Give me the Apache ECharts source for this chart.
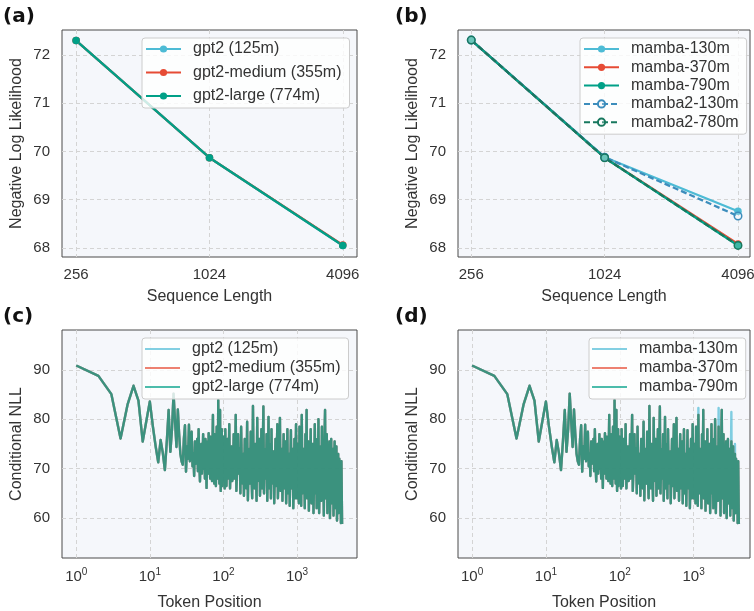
<!DOCTYPE html>
<html><head><meta charset="utf-8">
<script src="https://cdn.jsdelivr.net/npm/echarts@6/dist/echarts.min.js"></script>
<style>html,body{margin:0;padding:0;background:#fff}#c{width:754px;height:611px}</style>
</head><body><div id="c"></div>
<script>
// ---------- data ----------
const seqLen = [256, 1024, 4096];
const gpt2_125m = [72.30, 69.87, 68.05];
const gpt2_355m = [72.30, 69.87, 68.06];
const gpt2_774m = [72.30, 69.87, 68.05];
const mamba_130m = [72.31, 69.88, 68.76];
const mamba_370m = [72.31, 69.87, 68.08];
const mamba_790m = [72.31, 69.87, 68.05];
const mamba2_130m = [72.31, 69.88, 68.66];
const mamba2_780m = [72.31, 69.87, 68.05];

const tokenPos = [
  // 1-30
  1,2,3,4,5,6,7,8,9,10,11,12,13,14,15,16,17,18,19,20,21,22,23,24,25,26,27,28,29,30,
  // 31-100
  31,32,33,34,35,36,37,38,39,40,41,42,43,44,45,46,47,48,49,50,
  51,52,53,54,55,56,57,58,59,60,61,62,63,64,65,66,67,68,69,70,
  71,72,73,74,75,76,77,78,79,80,81,82,83,84,85,86,87,88,89,90,
  91,92,93,94,95,96,97,98,99,100,
  // 102-970
  102,104,106,108,110,112,114,116,118,120,
  123,126,129,132,135,138,141,144,147,150,
  154,158,162,166,170,174,178,182,186,190,
  195,200,205,210,215,220,225,230,235,240,
  246,252,258,264,270,276,282,288,294,300,
  307,314,321,328,335,342,349,356,363,370,
  378,386,394,402,410,418,426,434,442,450,
  460,470,480,490,500,510,520,530,540,550,
  562,574,586,598,610,622,634,646,658,670,
  684,698,712,726,740,754,768,782,796,810,
  826,842,858,874,890,906,922,938,954,970,
  // 1000-4096 (75)
  1000,1020,1040,1060,1080,1100,1120,1140,1160,1180,
  1200,1225,1250,1275,1300,1325,1350,1375,1400,1425,1450,1475,
  1500,1535,1570,1605,1640,1675,1710,1745,1780,1815,1850,1885,1920,1955,
  2000,2045,2090,2135,2180,2225,2270,2315,2360,2405,2450,2495,2540,2585,
  2640,2695,2750,2805,2860,2915,2970,3025,3080,3135,3190,3245,
  3300,3365,3430,3495,3560,3625,3690,3755,3820,3885,3950,4015,4096
];
// conditional NLL; panel (d) mamba-370m / mamba-790m overlap it
const nllShared = [
  // 1-30
  90.9,88.8,85.1,76.1,83.1,86.8,83.8,75.5,79.8,83.6,
  78.5,74.5,71.3,75.8,73.2,69.7,75.5,81.9,73.4,78.0,
  85.2,79.5,74.4,82.0,77.0,73.0,71.5,70.8,76.0,78.8,
  // 31-100
  69.4,74.5,72.0,78.9,71.5,74.0,77.5,70.5,73.0,68.5,
  75.5,71.0,72.5,76.0,69.5,78.0,71.0,67.4,73.5,75.0,
  69.0,72.0,77.0,70.0,74.5,68.0,76.0,71.5,66.1,73.0,
  75.5,69.0,77.2,71.0,74.0,68.0,76.5,70.5,73.0,67.5,
  75.0,80.9,70.0,73.5,67.0,77.0,71.5,74.5,66.5,72.0,
  78.5,69.5,75.0,68.0,83.9,72.5,76.0,67.0,74.0,81.9,
  70.0,65.5,75.5,71.0,78.0,66.5,73.0,69.5,76.5,68.0,
  // 102-970
  74.0,66.0,78.0,70.5,66.5,73.0,76.0,68.0,71.5,79.0,
  66.0,72.0,74.5,67.5,70.0,77.0,68.0,73.0,80.9,65.5,
  71.0,77.0,69.0,74.0,65.0,78.5,70.0,67.0,73.0,64.5,
  76.0,70.5,66.0,79.5,63.6,72.0,74.0,67.0,77.5,69.0,
  64.0,82.7,68.5,66.0,75.0,70.0,63.5,80.3,67.5,72.0,
  76.0,64.5,70.0,78.0,66.0,73.0,82.6,65.0,71.0,74.0,
  68.0,77.0,63.5,70.0,80.5,66.0,72.5,75.0,64.0,78.0,
  67.0,71.0,73.5,63.0,69.5,76.0,66.5,72.0,79.0,64.0,
  70.0,74.0,80.3,65.5,68.5,74.0,63.5,71.0,77.0,66.0,
  69.5,75.5,63.0,70.5,78.0,65.0,68.0,73.0,62.5,70.0,
  77.8,66.0,71.5,74.0,62.0,68.0,76.0,64.0,70.0,79.0,
  // 1000-4096
  64.0,75.0,70.0,63.0,78.5,67.0,72.0,62.5,80.9,68.0,
  65.0,74.0,71.0,62.0,77.0,66.5,81.9,64.0,70.0,75.5,61.5,73.0,
  68.0,78.0,63.0,71.0,75.0,61.0,69.0,79.0,65.0,72.5,62.0,76.0,68.0,80.0,
  61.0,70.0,74.5,63.5,78.5,66.0,71.0,60.5,76.0,81.9,64.0,69.0,77.0,61.0,
  73.0,67.0,75.5,60.0,70.0,76.0,63.0,68.5,74.0,60.5,71.0,75.5,
  62.0,69.0,74.5,59.5,67.0,73.0,61.0,72.0,64.0,70.5,59.0,71.5,58.8
];
// mamba-130m in panel (d) deviates only for positions >= 1000 (last 75 points)
const mamba130Tail = [
  64.0,75.0,70.0,63.0,78.5,67.0,72.0,62.5,82.3,68.0,
  65.0,74.0,71.0,62.0,77.0,66.5,81.9,64.0,70.0,75.5,61.5,73.0,
  68.0,78.0,63.0,71.0,75.0,61.0,69.0,79.0,65.0,72.5,62.0,76.0,68.0,80.0,
  61.0,70.0,74.5,63.5,82.3,66.0,71.0,60.5,76.0,81.9,64.0,69.0,77.0,61.0,
  73.0,67.0,75.5,60.0,70.0,76.0,63.0,68.5,74.0,60.5,71.0,81.5,
  62.0,69.0,74.5,59.5,67.0,75.0,61.0,72.0,64.0,70.5,59.0,71.5,58.8
];

// ---------- build ----------
const FONT = 'Liberation Sans, Arial, sans-serif';
const TXT = '#333';
const C_BLUE = '#4DBBD5', C_RED = '#E64B35', C_GREEN = '#00A087', C_BLUE2 = '#3C8DBC', C_GREEN2 = '#17785E';

const pairs = (xs, ys) => xs.map((x, i) => [x, ys[i]]);
const nllMamba130 = nllShared.slice(0, nllShared.length - mamba130Tail.length).concat(mamba130Tail);

const gridBase = {show: true, backgroundColor: '#F5F7FB', borderColor: '#4a4a4a', borderWidth: 1, containLabel: false, outerBoundsMode: 'none'};
const grids = [
  Object.assign({left: 62, top: 30, width: 295, height: 227}, gridBase),
  Object.assign({left: 458, top: 30, width: 292, height: 227}, gridBase),
  Object.assign({left: 62, top: 330, width: 295, height: 228}, gridBase),
  Object.assign({left: 458, top: 330, width: 292, height: 228}, gridBase)
];

const splitLine = {show: true, showMinLine: false, showMaxLine: false, lineStyle: {color: '#d4d4d4', type: [4, 3], width: 1}};
const nameStyle = {fontSize: 16, color: TXT, fontFamily: FONT};

function xSeq(gi, min, max) {
  return {type: 'log', logBase: 4, gridIndex: gi, min: min, max: max,
    axisLine: {show: false}, axisTick: {show: false}, splitLine: splitLine,
    axisLabel: {showMinLabel: false, showMaxLabel: false, formatter: v => String(Math.round(v)),
      fontSize: 15, color: TXT, fontFamily: FONT, margin: 10},
    name: 'Sequence Length', nameLocation: 'middle', nameGap: 32, nameTextStyle: nameStyle};
}
function xTok(gi, min, max) {
  return {type: 'log', logBase: 10, gridIndex: gi, min: min, max: max,
    axisLine: {show: false}, axisTick: {show: false}, splitLine: splitLine,
    axisLabel: {showMinLabel: false, showMaxLabel: false,
      formatter: v => '{b|10}{e|' + Math.round(Math.log10(v)) + '}',
      rich: {b: {fontSize: 15, color: TXT, fontFamily: FONT},
             e: {fontSize: 10, color: TXT, fontFamily: FONT, verticalAlign: 'top', padding: [0, 0, 10, 0]}},
      margin: 9},
    name: 'Token Position', nameLocation: 'middle', nameGap: 37, nameTextStyle: nameStyle};
}
function yAx(gi, min, max, name) {
  return {type: 'value', gridIndex: gi, min: min, max: max,
    axisLine: {show: false}, axisTick: {show: false}, splitLine: splitLine,
    axisLabel: {showMinLabel: false, showMaxLabel: false, fontSize: 15, color: TXT, fontFamily: FONT, margin: 12},
    name: name, nameLocation: 'middle', nameGap: 37, nameTextStyle: nameStyle};
}

function mkLine(name, gi, xs, ys, color, dashed, hollow) {
  return {type: 'line', name: name, xAxisIndex: gi, yAxisIndex: gi, data: pairs(xs, ys),
    color: color, symbol: 'circle', symbolSize: 7.5, showSymbol: true,
    lineStyle: {width: 2.3, color: color, type: dashed ? [6, 3] : 'solid'},
    itemStyle: hollow ? {color: 'rgba(245,247,251,0.25)', borderColor: color, borderWidth: 1.5} : {color: color},
    silent: true, z: 3};
}
function mkNoisy(name, gi, ys, color) {
  return {type: 'line', name: name, xAxisIndex: gi, yAxisIndex: gi, data: pairs(tokenPos, ys),
    color: color, symbol: 'none', showSymbol: false, sampling: null,
    lineStyle: {width: 2.4, color: color, opacity: 0.7, join: 'round'}, itemStyle: {color: color}, silent: true, z: 3};
}

const series = [
  mkLine('gpt2 (125m)', 0, seqLen, gpt2_125m, C_BLUE),
  mkLine('gpt2-medium (355m)', 0, seqLen, gpt2_355m, C_RED),
  mkLine('gpt2-large (774m)', 0, seqLen, gpt2_774m, C_GREEN),
  mkLine('mamba-130m', 1, seqLen, mamba_130m, C_BLUE),
  mkLine('mamba-370m', 1, seqLen, mamba_370m, C_RED),
  mkLine('mamba-790m', 1, seqLen, mamba_790m, C_GREEN),
  mkLine('mamba2-130m', 1, seqLen, mamba2_130m, C_BLUE2, true, true),
  mkLine('mamba2-780m', 1, seqLen, mamba2_780m, C_GREEN2, true, true),
  mkNoisy('gpt2 (125m)', 2, nllShared, C_BLUE),
  mkNoisy('gpt2-medium (355m)', 2, nllShared, C_RED),
  mkNoisy('gpt2-large (774m)', 2, nllShared, C_GREEN),
  mkNoisy('mamba-130m', 3, nllMamba130, C_BLUE),
  mkNoisy('mamba-370m', 3, nllShared, C_RED),
  mkNoisy('mamba-790m', 3, nllShared, C_GREEN)
];

const legendBase = {orient: 'vertical', itemWidth: 35, itemHeight: 9,
  backgroundColor: 'rgba(255,255,255,0.8)', borderColor: '#cccccc', borderWidth: 1, borderRadius: 3,
  textStyle: {fontSize: 16, color: TXT, fontFamily: FONT, lineHeight: 16, padding: [0, 0, 0, 7]},
  selectedMode: false, z: 10};
const flatItem = (name, color) => ({name: name, icon: 'rect', itemStyle: {color: color, opacity: 0.7, borderWidth: 0}});

const legends = [
  Object.assign({}, legendBase, {left: 142, top: 38, itemGap: 7.5, padding: [3, 8, 4, 3],
    data: ['gpt2 (125m)', 'gpt2-medium (355m)', 'gpt2-large (774m)']}),
  Object.assign({}, legendBase, {left: 580, top: 38, itemGap: 2.3, padding: [3, 8, 4, 3],
    data: ['mamba-130m', 'mamba-370m', 'mamba-790m', 'mamba2-130m', 'mamba2-780m']}),
  Object.assign({}, legendBase, {left: 142, top: 338, itemGap: 3, itemHeight: 2, padding: [3, 8, 4, 3],
    data: [flatItem('gpt2 (125m)', C_BLUE), flatItem('gpt2-medium (355m)', C_RED), flatItem('gpt2-large (774m)', C_GREEN)]}),
  Object.assign({}, legendBase, {left: 589, top: 338, itemGap: 3, itemHeight: 2, padding: [3, 8, 4, 3],
    data: [flatItem('mamba-130m', C_BLUE), flatItem('mamba-370m', C_RED), flatItem('mamba-790m', C_GREEN)]})
];

const panelFont = 'bold 20px DejaVu Sans';
const graphic = [
  {type: 'text', left: 3, top: 7, style: {text: '(a)', font: panelFont, fill: '#111'}},
  {type: 'text', left: 395, top: 7, style: {text: '(b)', font: panelFont, fill: '#111'}},
  {type: 'text', left: 3, top: 307, style: {text: '(c)', font: panelFont, fill: '#111'}},
  {type: 'text', left: 395, top: 307, style: {text: '(d)', font: panelFont, fill: '#111'}}
];

const chart = echarts.init(document.getElementById('c'), null, {renderer: 'canvas'});
chart.setOption({
  animation: false,
  backgroundColor: '#ffffff',
  grid: grids,
  xAxis: [xSeq(0, 221, 4750), xSeq(1, 223, 4640), xTok(2, 0.64, 6535), xTok(3, 0.645, 5800)],
  yAxis: [yAx(0, 67.81, 72.52, 'Negative Log Likelihood'), yAx(1, 67.81, 72.52, 'Negative Log Likelihood'),
          yAx(2, 51.9, 98.1, 'Conditional NLL'), yAx(3, 51.9, 98.1, 'Conditional NLL')],
  legend: legends,
  graphic: graphic,
  series: series
});
</script></body></html>
